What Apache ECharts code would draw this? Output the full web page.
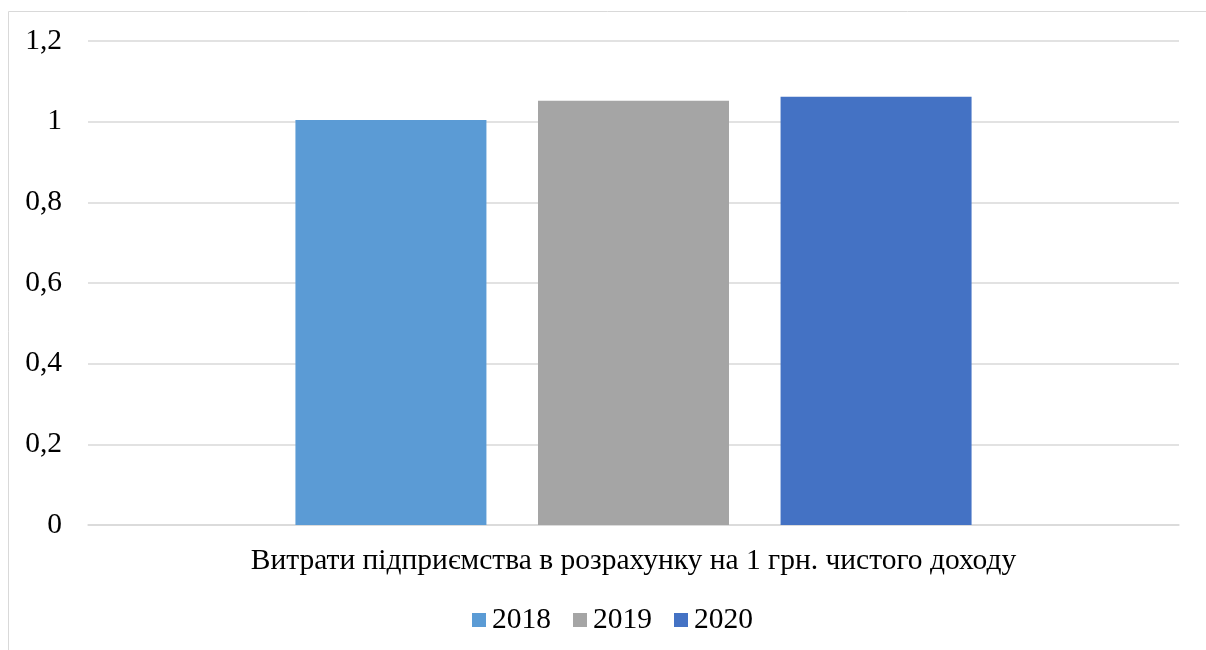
<!DOCTYPE html>
<html>
<head>
<meta charset="utf-8">
<script src="https://cdn.jsdelivr.net/npm/echarts@6/dist/echarts.min.js"></script>
<style>
html,body{margin:0;padding:0;background:#fff;}
#chart{width:1206px;height:650px;}
</style>
</head>
<body>
<div id="chart"></div>
<script>
const categories = ['Витрати підприємства в розрахунку на 1 грн. чистого доходу'];
const seriesNames = ['2018', '2019', '2020'];
const values2018 = [1.004];
const values2019 = [1.052];
const values2020 = [1.062];
const yTicks = [0, 0.2, 0.4, 0.6, 0.8, 1, 1.2];

const colors = ['#5B9BD5', '#A5A5A5', '#4472C4'];
const fontFamily = '"Liberation Serif", "Times New Roman", serif';
const allValues = [values2018, values2019, values2020];

const chart = echarts.init(document.getElementById('chart'));
chart.setOption({
  animation: false,
  color: colors,
  graphic: [{
    type: 'rect',
    shape: { x: 8.5, y: 11.5, width: 1300, height: 800 },
    style: { fill: 'none', stroke: '#d9d9d9', lineWidth: 1 },
    silent: true, z: -10
  }],
  grid: { left: 88, right: 27, top: 41, bottom: 125, containLabel: false },
  xAxis: {
    type: 'category',
    data: categories,
    axisLine: { show: true, lineStyle: { color: '#d9d9d9', width: 1.5 } },
    axisTick: { show: false },
    axisLabel: { color: '#000', fontSize: 29.5, fontFamily: fontFamily, margin: 21 }
  },
  yAxis: {
    type: 'value',
    min: yTicks[0],
    max: yTicks[yTicks.length - 1],
    interval: 0.2,
    axisLine: { show: false },
    axisTick: { show: false },
    splitLine: { lineStyle: { color: '#d9d9d9', width: 1.5 } },
    axisLabel: {
      color: '#000', fontSize: 29.5, fontFamily: fontFamily, margin: 26,
      formatter: v => String(Math.round(v * 10) / 10).replace('.', ',')
    }
  },
  legend: {
    bottom: 10,
    left: 467,
    itemWidth: 14,
    itemHeight: 14,
    itemGap: 22,
    icon: 'rect',
    textStyle: { color: '#000', fontSize: 29.5, fontFamily: fontFamily, padding: [0, 0, 0, 1] },
    data: seriesNames
  },
  series: seriesNames.map((name, i) => ({
    name: name,
    type: 'bar',
    data: allValues[i],
    barWidth: 191,
    barGap: '27%'
  }))
});
</script>
</body>
</html>
